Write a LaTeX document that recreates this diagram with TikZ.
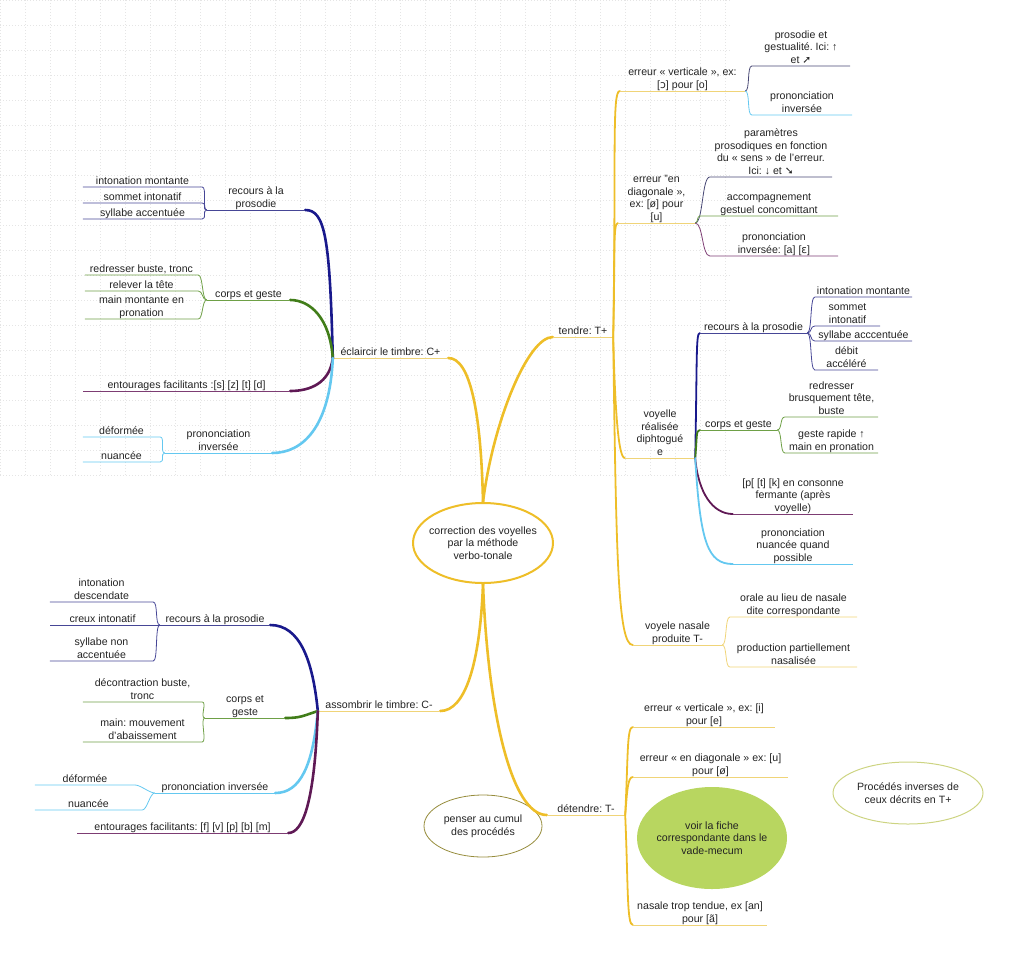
\documentclass[tikz,border=0pt]{standalone}
\usepackage{fontspec}
\setmainfont{Liberation Sans}
\newfontfamily\dvfont{DejaVu Sans}
\newcommand{\dv}[1]{{\dvfont #1}}
\usepackage{tikz}
\usetikzlibrary{shapes.geometric}

\definecolor{txt}{RGB}{35,35,35}
\definecolor{mapyellow}{RGB}{238,190,40}
\definecolor{yellowthin}{RGB}{240,212,120}
\definecolor{darkblue}{RGB}{25,25,140}
\definecolor{bluethin}{RGB}{70,70,150}
\definecolor{slate}{RGB}{70,70,115}
\definecolor{mapgreen}{RGB}{65,125,25}
\definecolor{greenthin}{RGB}{110,160,70}
\definecolor{mappurple}{RGB}{95,25,85}
\definecolor{purplethin}{RGB}{125,60,115}
\definecolor{skyblue}{RGB}{100,200,240}
\definecolor{fichegreen}{RGB}{184,214,96}
\definecolor{pensercol}{RGB}{150,140,60}
\definecolor{inversecol}{RGB}{205,212,130}

\begin{document}
\frenchspacing
\begin{tikzpicture}[
    x=1pt, y=-1pt,
    font=\fontsize{10.6}{12.6}\selectfont,
    leaf/.style={
		anchor=south,
		align=center,
		inner xsep=0pt,
		inner ysep=0.5pt,
		text depth=2pt,
		text=txt
	},
	bubble/.style={
		ellipse,
		align=center,
		inner sep=-6pt,
		text=txt
	},
	trunk/.style={line width=2.6pt, line cap=round},
	limb/.style={line width=1.8pt, line cap=round},
	twig/.style={line width=0.8pt},
	gridline/.style={black!10, dash pattern=on 0.8pt off 2.2pt, line width=0.6pt}
  ]
  \useasboundingbox (0,0) rectangle (1024,969);
  % faint paper grid
  \draw [gridline] (0,0) grid [step=25pt] (730,475);

  % the centre and the four main branches
  \node [bubble, draw=mapyellow, line width=2pt, fill=white, minimum width=140pt, minimum height=80pt] (centre) at (483,543)
  {correction des voyelles\\par la méthode\\verbo-tonale};

  \node [leaf, minimum width=115pt] (clair) at (390.5,358) {éclaircir le timbre: C+};
  \node [leaf, minimum width=60pt] (tendre) at (583,337) {tendre: T+};
  \node [leaf, minimum width=122pt] (sombre) at (379,711) {assombrir le timbre: C-};
  \node [leaf, minimum width=78pt] (detendre) at (586,815) {détendre: T-};

  % T+
  \node [leaf, minimum width=125pt] (vert) at (682.5,91) {erreur « verticale », ex:\\{}[\dv{ɔ}] pour [o]};
  \node [leaf, minimum width=77pt] (diag) at (656.5,223) {erreur "en\\diagonale »,\\ex: [ø] pour\\{}[u]};
  \node [leaf, minimum width=70pt] (diph) at (660,458) {voyelle\\réalisée\\diphtogué\\e};
  \node [leaf, minimum width=89pt] (nasal) at (677.5,645) {voyele nasale\\produite T-};

  \node [leaf, minimum width=98pt] (vert1) at (801,66) {prosodie et\\gestualité. Ici: ↑\\et \dv{➚}};
  \node [leaf, minimum width=100pt] (vert2) at (802,115) {prononciation\\inversée};

  \node [leaf, minimum width=122pt] (diag1) at (771,177) {paramètres\\prosodiques en fonction\\du « sens » de l’erreur.\\Ici: ↓ et \dv{➘}};
  \node [leaf, minimum width=138pt] (diag2) at (769,216) {accompagnement\\gestuel concomittant};
  \node [leaf, minimum width=128pt] (diag3) at (774,256) {prononciation\\inversée: [a] [\dv{ɛ}]};

  \node [leaf, minimum width=107pt] (diph1) at (753.5,333) {recours à la prosodie};
  \node [leaf, minimum width=77pt] (diph2) at (738.5,430) {corps et geste};
  \node [leaf, minimum width=120pt] (diph3) at (793,514) {[p[ [t] [k] en consonne\\fermante (après\\voyelle)};
  \node [leaf, minimum width=120pt] (diph4) at (793,564) {prononciation\\nuancée quand\\possible};

  \node [leaf, minimum width=97pt] (tpros1) at (863.5,297) {intonation montante};
  \node [leaf, minimum width=65pt] (tpros2) at (847.5,326) {sommet\\intonatif};
  \node [leaf, minimum width=97pt] (tpros3) at (863.5,341) {syllabe acccentuée};
  \node [leaf, minimum width=63pt] (tpros4) at (846.5,370) {débit\\accéléré};

  \node [leaf, minimum width=93pt] (tgeste1) at (831.5,417) {redresser\\brusquement tête,\\buste};
  \node [leaf, minimum width=93pt] (tgeste2) at (831.5,453) {geste rapide ↑\\main en pronation};

  \node [leaf, minimum width=127pt] (nasal1) at (793.5,617) {orale au lieu de nasale\\dite correspondante};
  \node [leaf, minimum width=127pt] (nasal2) at (793.5,667) {production partiellement\\nasalisée};

  % C+
  \node [leaf, minimum width=98pt] (cpros) at (256,210) {recours à la\\prosodie};
  \node [leaf, minimum width=83pt] (ccorps) at (248.5,300) {corps et geste};
  \node [leaf, minimum width=207pt] (cent) at (186.5,391) {entourages facilitants :[s] [z] [t] [d]};
  \node [leaf, minimum width=107pt] (cinv) at (218.5,453) {prononciation\\inversée};

  \node [leaf, minimum width=119pt] (cpros1) at (142.5,187) {intonation montante};
  \node [leaf, minimum width=119pt] (cpros2) at (142.5,203) {sommet intonatif};
  \node [leaf, minimum width=119pt] (cpros3) at (142.5,219) {syllabe accentuée};
  \node [leaf, minimum width=113pt] (ccorps1) at (141.5,275) {redresser buste, tronc};
  \node [leaf, minimum width=113pt] (ccorps2) at (141.5,291) {relever la tête};
  \node [leaf, minimum width=113pt] (ccorps3) at (141.5,319) {main montante en\\pronation};
  \node [leaf, minimum width=77pt] (cinv1) at (121.5,437) {déformée};
  \node [leaf, minimum width=77pt] (cinv2) at (121.5,462) {nuancée};

  % C-
  \node [leaf, minimum width=110pt] (spros) at (215,625) {recours à la prosodie};
  \node [leaf, minimum width=80pt] (scorps) at (245,718) {corps et\\geste};
  \node [leaf, minimum width=120pt] (sinv) at (215,793) {prononciation inversée};
  \node [leaf, minimum width=211pt] (sent) at (182.5,833) {entourages facilitants: [f] [v] [p] [b] [m]};

  \node [leaf, minimum width=103pt] (spros1) at (101.5,602) {intonation\\descendate};
  \node [leaf, minimum width=105pt] (spros2) at (102.5,625) {creux intonatif};
  \node [leaf, minimum width=103pt] (spros3) at (101.5,661) {syllabe non\\accentuée};
  \node [leaf, minimum width=119pt] (scorps1) at (142.5,702) {décontraction buste,\\tronc};
  \node [leaf, minimum width=119pt] (scorps2) at (142.5,742) {main: mouvement\\d’abaissement};
  \node [leaf, minimum width=100pt] (sinv1) at (85,785) {déformée};
  \node [leaf, minimum width=107pt] (sinv2) at (88.5,810) {nuancée};

  % T-
  \node [leaf, minimum width=142pt] (dver) at (704,727) {erreur « verticale », ex: [i]\\pour [e]};
  \node [leaf, minimum width=155pt] (ddiag) at (710.5,777) {erreur « en diagonale » ex: [u]\\pour [ø]};
  \node [leaf, minimum width=134pt] (dnas) at (700,925) {nasale trop tendue, ex [an]\\pour [ã]};

  % loose bubbles
  \node [bubble, draw=pensercol, line width=0.8pt, minimum width=118pt, minimum height=62pt] (cumul) at (483,826) {penser au cumul\\des procédés};
  \node [bubble, draw=inversecol, line width=1pt, minimum width=150pt, minimum height=62pt] (inverse) at (908,793) {Procédés inverses de\\ceux décrits en T+};
  \node [bubble, fill=fichegreen, minimum width=150pt, minimum height=102pt] (fiche) at (712,838) {voir la fiche\\correspondante dans le\\vade-mecum};

  % main branches
  \draw [mapyellow, trunk] (centre.north) .. controls +(-2,-90) and +(22,0) .. (clair.south east);
  \draw [mapyellow, trunk] (centre.north) .. controls +(10,-80) and +(-25,0) .. (tendre.south west);
  \draw [mapyellow, trunk] (centre.south) .. controls +(-3,80) and +(25,0) .. (sombre.south east);
  \draw [mapyellow, trunk] (centre.south) .. controls +(5,130) and +(-35,0) .. (detendre.south west);
  \draw [yellowthin, twig] (clair.south east) -- (clair.south west);
  \draw [yellowthin, twig] (tendre.south west) -- (tendre.south east);
  \draw [yellowthin, twig] (sombre.south east) -- (sombre.south west);
  \draw [yellowthin, twig] (detendre.south west) -- (detendre.south east);

  % T+ branches
  \draw [mapyellow, limb] (tendre.south east) .. controls +(3,-180) and +(-8,0) .. (vert.south west);
  \draw [mapyellow, limb] (tendre.south east) .. controls +(2,-80) and +(-5,0) .. (diag.south west);
  \draw [mapyellow, limb] (tendre.south east) .. controls +(2,80) and +(-6,0) .. (diph.south west);
  \draw [mapyellow, limb] (tendre.south east) .. controls +(3,220) and +(-15,0) .. (nasal.south west);
  \draw [yellowthin, twig] (vert.south west) -- (vert.south east);
  \draw [yellowthin, twig] (diag.south west) -- (diag.south east);
  \draw [yellowthin, twig] (diph.south west) -- (diph.south east);
  \draw [yellowthin, twig] (nasal.south west) -- (nasal.south east);

  \draw [slate, twig] (vert.south east) .. controls +(5,0) and +(-5,0) .. (vert1.south west) -- (vert1.south east);
  \draw [skyblue, twig] (vert.south east) .. controls +(5,0) and +(-5,0) .. (vert2.south west) -- (vert2.south east);

  \draw [slate, twig] (diag.south east) .. controls +(8,0) and +(-8,0) .. (diag1.south west) -- (diag1.south east);
  \draw [greenthin, twig] (diag.south east) .. controls +(3,0) and +(-3,0) .. (diag2.south west) -- (diag2.south east);
  \draw [purplethin, twig] (diag.south east) .. controls +(8,0) and +(-8,0) .. (diag3.south west) -- (diag3.south east);

  \draw [darkblue, limb] (diph.south east) .. controls +(2,-100) and +(-4,0) .. (diph1.south west);
  \draw [mapgreen, limb] (diph.south east) .. controls +(2,-20) and +(-4,0) .. (diph2.south west);
  \draw [mappurple, limb] (diph.south east) .. controls +(3,35) and +(-20,0) .. (diph3.south west);
  \draw [skyblue, limb] (diph.south east) .. controls +(5,85) and +(-25,0) .. (diph4.south west);
  \draw [bluethin, twig] (diph1.south west) -- (diph1.south east);
  \draw [greenthin, twig] (diph2.south west) -- (diph2.south east);
  \draw [purplethin, twig] (diph3.south west) -- (diph3.south east);
  \draw [skyblue, twig] (diph4.south west) -- (diph4.south east);

  \draw [bluethin, twig] (diph1.south east) .. controls +(5,0) and +(-5,0) .. (tpros1.south west) -- (tpros1.south east);
  \draw [bluethin, twig] (diph1.south east) .. controls +(5,0) and +(-5,0) .. (tpros2.south west) -- (tpros2.south east);
  \draw [bluethin, twig] (diph1.south east) .. controls +(5,0) and +(-5,0) .. (tpros3.south west) -- (tpros3.south east);
  \draw [bluethin, twig] (diph1.south east) .. controls +(5,0) and +(-5,0) .. (tpros4.south west) -- (tpros4.south east);
  \draw [greenthin, twig] (diph2.south east) .. controls +(5,0) and +(-5,0) .. (tgeste1.south west) -- (tgeste1.south east);
  \draw [greenthin, twig] (diph2.south east) .. controls +(5,0) and +(-5,0) .. (tgeste2.south west) -- (tgeste2.south east);

  \draw [yellowthin, twig] (nasal.south east) .. controls +(5,0) and +(-5,0) .. (nasal1.south west) -- (nasal1.south east);
  \draw [yellowthin, twig] (nasal.south east) .. controls +(5,0) and +(-5,0) .. (nasal2.south west) -- (nasal2.south east);

  % C+ branches
  \draw [darkblue, trunk] (clair.south west) .. controls +(-3,-120) and +(20,0) .. (cpros.south east);
  \draw [mapgreen, trunk] (clair.south west) .. controls +(-3,-40) and +(20,0) .. (ccorps.south east);
  \draw [mappurple, trunk] (clair.south west) .. controls +(-3,25) and +(20,0) .. (cent.south east);
  \draw [skyblue, trunk] (clair.south west) .. controls +(-3,70) and +(30,0) .. (cinv.south east);
  \draw [bluethin, twig] (cpros.south east) -- (cpros.south west);
  \draw [greenthin, twig] (ccorps.south east) -- (ccorps.south west);
  \draw [purplethin, twig] (cent.south east) -- (cent.south west);
  \draw [skyblue, twig] (cinv.south east) -- (cinv.south west);

  \draw [bluethin, twig] (cpros.south west) .. controls +(-5,0) and +(5,0) .. (cpros1.south east) -- (cpros1.south west);
  \draw [bluethin, twig] (cpros.south west) .. controls +(-5,0) and +(5,0) .. (cpros2.south east) -- (cpros2.south west);
  \draw [bluethin, twig] (cpros.south west) .. controls +(-5,0) and +(5,0) .. (cpros3.south east) -- (cpros3.south west);
  \draw [greenthin, twig] (ccorps.south west) .. controls +(-5,0) and +(5,0) .. (ccorps1.south east) -- (ccorps1.south west);
  \draw [greenthin, twig] (ccorps.south west) .. controls +(-5,0) and +(5,0) .. (ccorps2.south east) -- (ccorps2.south west);
  \draw [greenthin, twig] (ccorps.south west) .. controls +(-5,0) and +(5,0) .. (ccorps3.south east) -- (ccorps3.south west);
  \draw [skyblue, twig] (cinv.south west) .. controls +(-5,0) and +(5,0) .. (cinv1.south east) -- (cinv1.south west);
  \draw [skyblue, twig] (cinv.south west) .. controls +(-5,0) and +(5,0) .. (cinv2.south east) -- (cinv2.south west);

  % C- branches
  \draw [darkblue, trunk] (sombre.south west) .. controls +(-5,-50) and +(30,0) .. (spros.south east);
  \draw [mapgreen, trunk] (sombre.south west) .. controls +(-15,5) and +(15,0) .. (scorps.south east);
  \draw [skyblue, trunk] (sombre.south west) .. controls +(-5,55) and +(25,0) .. (sinv.south east);
  \draw [mappurple, trunk] (sombre.south west) .. controls +(-3,90) and +(15,0) .. (sent.south east);
  \draw [bluethin, twig] (spros.south east) -- (spros.south west);
  \draw [greenthin, twig] (scorps.south east) -- (scorps.south west);
  \draw [skyblue, twig] (sinv.south east) -- (sinv.south west);
  \draw [purplethin, twig] (sent.south east) -- (sent.south west);

  \draw [bluethin, twig] (spros.south west) .. controls +(-5,0) and +(5,0) .. (spros1.south east) -- (spros1.south west);
  \draw [bluethin, twig] (spros.south west) .. controls +(-5,0) and +(5,0) .. (spros2.south east) -- (spros2.south west);
  \draw [bluethin, twig] (spros.south west) .. controls +(-5,0) and +(5,0) .. (spros3.south east) -- (spros3.south west);
  \draw [greenthin, twig] (scorps.south west) .. controls +(-5,0) and +(5,0) .. (scorps1.south east) -- (scorps1.south west);
  \draw [greenthin, twig] (scorps.south west) .. controls +(-5,0) and +(5,0) .. (scorps2.south east) -- (scorps2.south west);
  \draw [skyblue, twig] (sinv.south west) .. controls +(-5,0) and +(5,0) .. (sinv1.south east) -- (sinv1.south west);
  \draw [skyblue, twig] (sinv.south west) .. controls +(-5,0) and +(5,0) .. (sinv2.south east) -- (sinv2.south west);

  % T- branches
  \draw [mapyellow, limb] (detendre.south east) .. controls +(3,-60) and +(-6,0) .. (dver.south west);
  \draw [mapyellow, limb] (detendre.south east) .. controls +(2,-25) and +(-5,0) .. (ddiag.south west);
  \draw [mapyellow, limb] (detendre.south east) .. controls +(3,70) and +(-6,0) .. (dnas.south west);
  \draw [yellowthin, twig] (dver.south west) -- (dver.south east);
  \draw [yellowthin, twig] (ddiag.south west) -- (ddiag.south east);
  \draw [yellowthin, twig] (dnas.south west) -- (dnas.south east);

\end{tikzpicture}
\end{document}
